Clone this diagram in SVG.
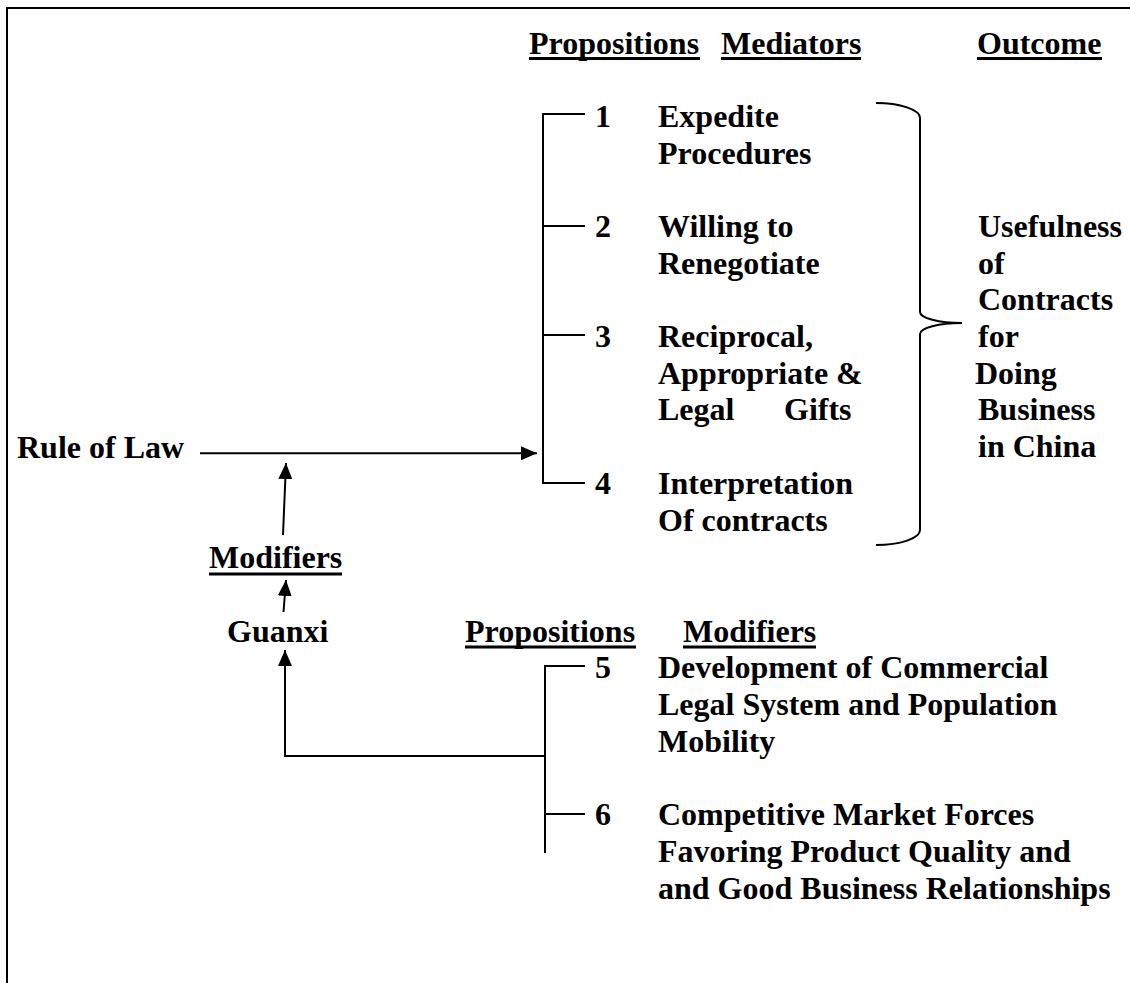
<svg xmlns="http://www.w3.org/2000/svg" width="1130" height="983" viewBox="0 0 1130 983">
  <style>
    text { font-family: "Liberation Serif", "Times New Roman", serif; font-size: 32px; font-weight: bold; fill: #000; }
    .ul { fill: #000; }
    .ln { fill: none; stroke: #000; stroke-width: 2; }
    .arrow { fill: none; stroke: #000; stroke-width: 2; marker-end: url(#head); }
  </style>
  <defs>
    <marker id="head" markerUnits="userSpaceOnUse" markerWidth="16" markerHeight="14" refX="16" refY="7" orient="auto">
      <path d="M0,0 L16,7 L0,14 Z" fill="#000"/>
    </marker>
  </defs>

  <rect width="1130" height="983" fill="#fff"/>

  <!-- frame: top and left edges only -->
  <path id="frame" class="ln" d="M7,983 L7,8 L1130,8"/>

  <!-- column headings -->
  <g id="head-propositions">
    <text x="529" y="53.5">Propositions</text>
    <rect class="ul" x="529" y="57" width="171" height="3"/>
  </g>
  <g id="head-mediators">
    <text x="721" y="53.5">Mediators</text>
    <rect class="ul" x="721" y="57" width="140" height="3"/>
  </g>
  <g id="head-outcome">
    <text x="977" y="53.5">Outcome</text>
    <rect class="ul" x="977" y="57" width="125" height="3"/>
  </g>

  <!-- mediators 1-4 -->
  <g id="prop-1">
    <text x="595" y="127">1</text>
    <text x="658" y="127">Expedite</text>
    <text x="658" y="163.7">Procedures</text>
  </g>
  <g id="prop-2">
    <text x="595" y="237">2</text>
    <text x="658" y="237">Willing to</text>
    <text x="658" y="273.7">Renegotiate</text>
  </g>
  <g id="prop-3">
    <text x="595" y="347">3</text>
    <text x="658" y="347">Reciprocal,</text>
    <text x="658" y="383.7">Appropriate &amp;</text>
    <text y="420.4"><tspan x="658">Legal</tspan><tspan x="784">Gifts</tspan></text>
  </g>
  <g id="prop-4">
    <text x="595" y="494">4</text>
    <text x="658" y="494">Interpretation</text>
    <text x="658" y="530.7">Of contracts</text>
  </g>

  <!-- outcome -->
  <g id="outcome">
    <text x="978" y="237">Usefulness</text>
    <text x="978" y="273.7">of</text>
    <text x="978" y="310.4">Contracts</text>
    <text x="978" y="347">for</text>
    <text x="975" y="383.7">Doing</text>
    <text x="978" y="420.4">Business</text>
    <text x="978" y="457">in China</text>
  </g>

  <!-- left column -->
  <g id="rule-of-law">
    <text x="17" y="458">Rule of Law</text>
  </g>
  <g id="modifiers">
    <text x="209" y="568">Modifiers</text>
    <rect class="ul" x="209" y="572.5" width="133" height="3"/>
  </g>
  <g id="guanxi">
    <text x="227" y="641.7">Guanxi</text>
  </g>

  <!-- lower headings -->
  <g id="head-propositions-2">
    <text x="465" y="641.7">Propositions</text>
    <rect class="ul" x="465" y="645.5" width="171" height="3"/>
  </g>
  <g id="head-modifiers-2">
    <text x="683" y="641.7">Modifiers</text>
    <rect class="ul" x="683" y="645.5" width="133" height="3"/>
  </g>

  <!-- modifiers 5-6 -->
  <g id="prop-5">
    <text x="595" y="678.4">5</text>
    <text x="658" y="678.4">Development of Commercial</text>
    <text x="658" y="715.1">Legal System and Population</text>
    <text x="658" y="751.8">Mobility</text>
  </g>
  <g id="prop-6">
    <text x="595" y="825.2">6</text>
    <text x="658" y="825.2">Competitive Market Forces</text>
    <text x="658" y="861.9">Favoring Product Quality and</text>
    <text x="658" y="898.6">and Good Business Relationships</text>
  </g>

  <g id="connectors">
    <!-- bracket joining mediators 1-4 -->
    <path class="ln" d="M585,114 L543,114 L543,483 L585,483 M543,226 L585,226 M543,335 L585,335"/>
    <!-- brace gathering mediators into the outcome -->
    <path class="ln" d="M876,103 A44,15 0 0 1 920,118 L920,312 A42,11 0 0 0 962,323 A42,11 0 0 0 920,334 L920,530 A44,15 0 0 1 876,545"/>
    <!-- rule of law to mediators -->
    <path class="arrow" d="M200,453.3 L537,453.3"/>
    <!-- modifiers acting on the rule-of-law link -->
    <path class="arrow" d="M283,535 L286,463"/>
    <!-- guanxi to modifiers -->
    <path class="arrow" d="M283.5,612 L286,580"/>
    <!-- bracket joining modifiers 5-6 -->
    <path class="ln" d="M585,666 L545,666 L545,853 M545,814 L585,814"/>
    <!-- modifiers 5-6 back to guanxi -->
    <path class="arrow" d="M545,756 L285,756 L285,650"/>
  </g>
</svg>
